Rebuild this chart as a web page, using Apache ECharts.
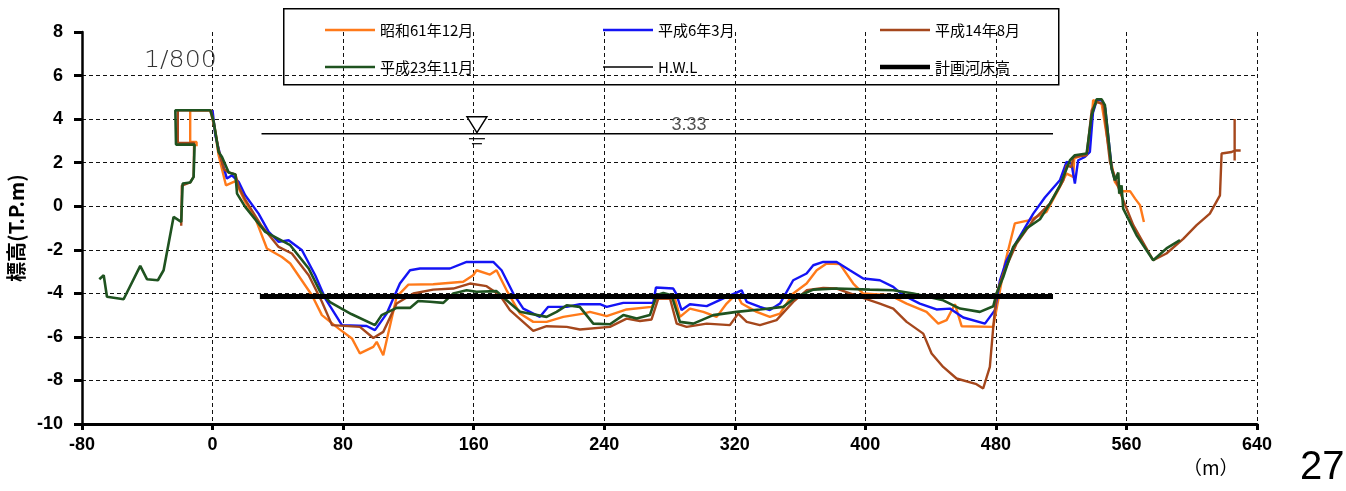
<!DOCTYPE html>
<html><head><meta charset="utf-8">
<script src="https://cdn.jsdelivr.net/npm/echarts/dist/echarts.min.js"></script>
<style>html,body{margin:0;padding:0;background:#fff}#c{width:1346px;height:491px}</style>
</head><body><div id="c"></div>
<script>
// ---- data ----
const seriesNames = ['昭和61年12月','平成6年3月','平成14年8月','平成23年11月','H.W.L','計画河床高'];
const xTicks = {min:-80, max:640, interval:80};
const yTicks = {min:-10, max:8, interval:2};

const s1986 = [[-9.8,2.75],[-9.8,2.95],[-13.7,2.95],[-13.7,4.41],[-1.4,4.41],[1.3,3.57],[3.7,2.34],[8.2,0.96],[14,1.15],[20,0.2],[26.2,-0.56],[33.3,-1.94],[42.5,-2.33],[47.6,-2.63],[60.9,-4.09],[67,-5.0],[77.3,-5.62],[85.4,-6.07],[90.3,-6.76],[98.5,-6.46],[100.6,-6.23],[104.6,-6.84],[112.8,-4.16],[120,-3.6],[135.2,-3.58],[153.6,-3.47],[159.7,-3.17],[161.8,-2.94],[170,-3.14],[174,-2.94],[180.2,-3.86],[188.4,-4.93],[196.5,-5.31],[204.7,-5.31],[214.9,-5.08],[227.2,-4.93],[231.2,-4.85],[241.5,-5.05],[253.7,-4.74],[269,-4.62],[272.1,-4.24],[283.3,-4.24],[286.4,-5.08],[292.5,-4.7],[300.7,-4.85],[308.9,-5.08],[315,-4.47],[321.1,-4.01],[324.2,-4.47],[333.4,-4.85],[341.5,-5.08],[347.7,-4.93],[355.8,-4.01],[364,-3.55],[370.2,-2.94],[376.3,-2.63],[384.4,-2.66],[392.6,-3.55],[398.7,-4.01],[415,-4.09],[425.3,-4.47],[437.5,-4.85],[444.7,-5.39],[449.8,-5.23],[454.9,-4.5],[459,-5.51],[478.4,-5.54],[481.4,-4.32],[485.5,-2.63],[491.6,-0.79],[500.8,-0.64],[511,-0.26],[519.2,0.89],[523.3,1.5],[527.4,1.35],[528,2.2],[537,2.45],[539.6,4.87],[544.8,4.7],[549.9,2.34],[552.9,1.12],[557,0.69],[562.2,0.69],[565.3,0.35],[568.3,0.05],[570.7,-0.72]];

const s1994 = [[0,4.41],[1.7,3.26],[4.7,2.34],[8.8,1.27],[11.9,1.42],[16,1.12],[20,0.5],[28.2,-0.34],[34.4,-1.18],[40.5,-1.64],[46.6,-1.56],[54.8,-2.02],[62.9,-3.17],[69.1,-4.24],[79.3,-5.46],[94.4,-5.5],[99.5,-5.69],[106.7,-4.93],[114.8,-3.55],[121,-2.94],[127.1,-2.86],[145.5,-2.86],[155.7,-2.56],[172,-2.56],[177.1,-2.94],[184.3,-4.01],[190.4,-4.7],[200.6,-5.08],[205.7,-4.62],[217,-4.62],[225.1,-4.5],[237.4,-4.5],[241.5,-4.62],[251.7,-4.44],[270,-4.44],[271.7,-3.73],[282.3,-3.78],[284,-4.0],[287.4,-4.77],[292.5,-4.5],[302.8,-4.59],[315,-4.16],[324.2,-3.86],[327.3,-4.39],[335.4,-4.62],[341.5,-4.77],[347.7,-4.47],[355.8,-3.4],[364,-3.09],[368.1,-2.71],[374.2,-2.56],[382.4,-2.56],[390.5,-2.94],[398.7,-3.32],[408.9,-3.4],[417.1,-3.7],[423.2,-4.09],[433.4,-4.47],[443.6,-4.74],[451.8,-4.7],[460,-5.11],[473.3,-5.39],[479.4,-4.77],[482.5,-3.4],[486.6,-2.48],[492.7,-1.64],[502.9,-0.34],[510,0.4],[519.2,1.19],[523.3,2.03],[526.3,1.96],[528.4,1.04],[530.4,2.11],[534.5,2.26],[537.6,2.49],[539.5,4.3],[542,4.9],[545,4.85],[547,4.5],[551,1.7],[553,1.2]];

const s2002 = [[-19.2,-0.9],[-18.8,0.95],[-18,1.04],[-13.7,1.09],[-11.6,1.35],[-11.3,2.9],[-21.3,2.9],[-21.3,4.41],[-1,4.41],[0.7,3.87],[3.7,2.6],[7,1.7],[9.9,1.55],[14,1.46],[16,0.9],[20,0.3],[30,-0.9],[40.5,-1.87],[48.6,-2.17],[58.9,-3.17],[67,-4.39],[73.2,-5.46],[90.3,-5.54],[98.5,-6.05],[104.6,-5.77],[112.8,-4.47],[123,-4.01],[135.2,-3.83],[147.5,-3.78],[157.7,-3.55],[167.9,-3.67],[176.1,-4.09],[182.2,-4.77],[196.5,-5.72],[204.7,-5.51],[217,-5.54],[225.1,-5.66],[243.5,-5.54],[253.7,-5.16],[261.9,-5.27],[269,-5.2],[273.1,-4.24],[280.3,-4.24],[284.4,-5.39],[290.5,-5.54],[302.8,-5.39],[317,-5.46],[322.1,-4.93],[327.3,-5.31],[335.4,-5.46],[345.6,-5.23],[355.8,-4.39],[364,-3.86],[374.2,-3.75],[382.4,-3.78],[396.7,-4.16],[408.9,-4.47],[417.1,-4.7],[425.3,-5.31],[435.5,-5.85],[440.6,-6.76],[447.7,-7.38],[455.9,-7.91],[468.1,-8.17],[472.2,-8.37],[476.3,-7.38],[478.4,-5.54],[480.4,-4.01],[484.5,-3.09],[492.7,-1.71],[502.9,-0.64],[513.1,0.12],[521.3,1.19],[523.3,1.88],[526.3,1.8],[527.4,2.26],[535.6,2.34],[538.7,4.4],[541.7,4.79],[545.8,4.7],[549.9,2.03],[556,0.66],[564.2,-0.87],[576.4,-2.48],[584.5,-2.17],[594.8,-1.5],[603,-0.87],[611.1,-0.34],[617.3,0.5],[618.3,2.42],[624.5,2.49],[626.3,2.56],[626.3,4.0],[626.3,2.1],[626.3,2.56],[630,2.56]];

const s2011 = [[-69.4,-3.35],[-66.7,-3.17],[-64.7,-4.16],[-54.5,-4.27],[-44.3,-2.74],[-40.2,-3.35],[-33.5,-3.4],[-30,-2.94],[-23.9,-0.49],[-19.2,-0.72],[-18.3,1.04],[-13.7,1.09],[-11.6,1.35],[-11,2.83],[-22.4,2.83],[-22.8,4.41],[-1.4,4.41],[0.7,3.87],[3.7,2.49],[5.8,2.26],[9.9,1.55],[14,1.46],[15,0.58],[20,-0.03],[32.3,-1.18],[47.6,-1.79],[58.9,-2.86],[66,-3.93],[72,-4.4],[85,-4.95],[99.5,-5.46],[103.6,-5.0],[112.8,-4.67],[121,-4.67],[126,-4.35],[133.2,-4.39],[141.4,-4.44],[147.5,-4.01],[155.7,-3.86],[161.8,-3.93],[174,-3.9],[180.2,-4.32],[188.4,-4.85],[204.7,-5.08],[210.8,-4.85],[217,-4.55],[225,-4.62],[233.3,-5.39],[243.5,-5.42],[251.7,-5.0],[259.9,-5.16],[268,-5.0],[272.1,-4.09],[276.2,-3.98],[281.3,-4.09],[286.4,-5.31],[294.6,-5.39],[306.8,-5.0],[321.1,-4.85],[335.4,-4.74],[349.7,-4.62],[357.9,-4.16],[368.1,-3.83],[382.4,-3.78],[402.8,-3.83],[417.1,-3.86],[429.4,-4.01],[447.7,-4.32],[458,-4.7],[470.2,-4.85],[478.4,-4.59],[480.4,-4.01],[484.5,-3.25],[490.6,-1.87],[498.8,-1.02],[507,-0.6],[513.1,0.12],[519.3,0.96],[525.4,2.11],[528.4,2.34],[535.6,2.42],[538.7,4.18],[541.7,4.91],[544.8,4.91],[546.8,4.64],[550.9,1.73],[552.9,1.19],[555,1.55],[555.6,0.58],[557,0.96],[558,-0.11],[566.2,-1.33],[576.4,-2.48],[584.5,-1.94],[592.8,-1.56]];

const hwlLevel = 3.33;
const hwlRange = [30, 515];
const bedLevel = -4.15;
const bedRange = [29, 515];
const hwlMarkX = 162;
const hwlLabelX = 292;
const scaleText = '1/800';
const pageNo = '27';

const hwl = hwlRange.map(x => [x, hwlLevel]);
const bed = bedRange.map(x => [x, bedLevel]);

const colors = ['#FF7A1A','#1414F5','#A5471C','#1F5320','#000000','#000000'];
const widths = [2.4,2.4,2.4,2.6,1.6,5];
const iconThick = [2.4,2.4,2.4,2.4,1.4,4.5];
const datas = [s1986,s1994,s2002,s2011,hwl,bed];

const chart = echarts.init(document.getElementById('c'), null, {renderer:'canvas'});
const lineSeries = seriesNames.map((n,i)=>({
  name:n, type:'line', data:datas[i], symbol:'none', showSymbol:false,
  lineStyle:{color:colors[i], width:widths[i]}, itemStyle:{color:colors[i]},
  z: i===5 ? 6 : 3+i*0.1, animation:false
}));

const iconPath = t => {
  const a = (8 - t/2).toFixed(2), b = (8 + t/2).toFixed(2);
  return `path://M0,0 M50,16 M0,${a} L50,${a} L50,${b} L0,${b} Z`;
};
const legendItem = i => ({name:seriesNames[i], icon:iconPath(iconThick[i])});
const legendText = {fontSize:15, fontFamily:'Noto Sans CJK JP', color:'#000', lineHeight:16};
const mkLegend = (idx,left)=>({data:idx.map(legendItem), orient:'vertical', left, top:22, itemWidth:50, itemHeight:16,
  itemGap:21, textStyle:legendText, selectedMode:false, padding:0, itemStyle:{borderWidth:0}});

const ySplitColors = [];
for (let v = yTicks.min; v <= yTicks.max; v += yTicks.interval) ySplitColors.push(v === yTicks.max ? 'rgba(0,0,0,0)' : '#111');

chart.setOption({
  animation:false,
  backgroundColor:'#fff',
  grid:{left:82, right:89, top:32, bottom:67, containLabel:false, outerBoundsMode:'none'},
  legend:[ mkLegend([0,3],325), mkLegend([1,4],603), mkLegend([2,5],880) ],
  xAxis:{type:'value', min:xTicks.min, max:xTicks.max, interval:xTicks.interval,
    axisLine:{show:true, onZero:false, lineStyle:{color:'#000', width:3}},
    axisTick:{show:true, length:6, lineStyle:{color:'#000', width:3}},
    axisLabel:{margin:12, fontSize:18, fontWeight:'bold', color:'#000', fontFamily:'Liberation Sans'},
    splitLine:{show:true, lineStyle:{color:'#111', width:1, type:[4,3]}}},
  yAxis:{type:'value', min:yTicks.min, max:yTicks.max, interval:yTicks.interval,
    name:'標高(T.P.m)', nameLocation:'middle', nameRotate:90, nameGap:56,
    nameTextStyle:{fontSize:20, fontWeight:'bold', color:'#000', fontFamily:'Noto Sans CJK JP'},
    axisLine:{show:true, onZero:false, lineStyle:{color:'#000', width:2.5}},
    axisTick:{show:true, length:8, lineStyle:{color:'#000', width:3}},
    axisLabel:{margin:19, fontSize:18, fontWeight:'bold', color:'#000', fontFamily:'Liberation Sans'},
    splitLine:{show:true, lineStyle:{color:ySplitColors, width:1, type:[4,3]}}},
  graphic:[
    {type:'rect', left:283, top:8, shape:{width:775, height:76}, style:{fill:'#fff', stroke:'#000', lineWidth:1.5}, z:-1},
    {type:'text', left:144, top:50, style:{text:scaleText, font:'300 23px "DejaVu Sans"', fill:'#333'}, scaleX:1.1},
    {type:'text', left:1183, top:458, style:{text:'（m）', font:'19px "Noto Sans CJK JP"', fill:'#000'}},
    {type:'text', left:1300, top:448, style:{text:pageNo, font:'40px "Liberation Sans"', fill:'#000'}}
  ],
  series: lineSeries.concat([
    {type:'custom', silent:true, z:7, data:[[hwlMarkX, hwlLevel]], animation:false,
     renderItem:(params, api)=>{
       const p = api.coord([api.value(0), api.value(1)]);
       return {type:'group', children:[
         {type:'polygon', shape:{points:[[p[0]-10,p[1]-17],[p[0]+10,p[1]-17],[p[0],p[1]-1]]}, style:{fill:'#fff', stroke:'#000', lineWidth:1.4}},
         {type:'line', shape:{x1:p[0]-8,y1:p[1]+5,x2:p[0]+8,y2:p[1]+5}, style:{stroke:'#000', lineWidth:1.2}},
         {type:'line', shape:{x1:p[0]-5,y1:p[1]+10,x2:p[0]+5,y2:p[1]+10}, style:{stroke:'#000', lineWidth:1.2}}
       ]};
     }},
    {type:'custom', silent:true, z:7, data:[[hwlLabelX, hwlLevel]], animation:false,
     renderItem:(params, api)=>{
       const p = api.coord([api.value(0), api.value(1)]);
       return {type:'text', x:p[0], y:p[1]-9, style:{text:hwlLevel.toFixed(2), font:'18px "Liberation Sans"', fill:'#555', align:'center', verticalAlign:'middle'}};
     }}
  ])
});
</script></body></html>
